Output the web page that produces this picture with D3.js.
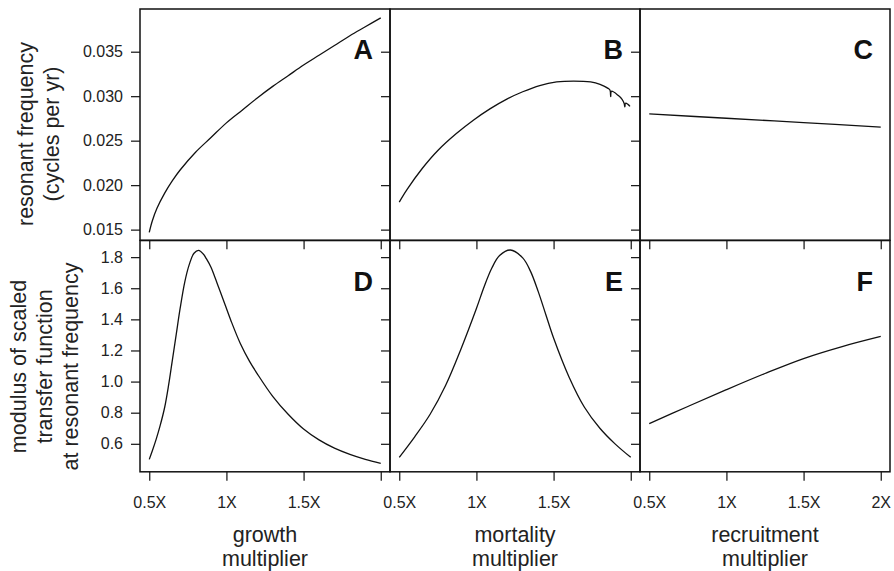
<!DOCTYPE html>
<html>
<head>
<meta charset="utf-8">
<script src="https://cdnjs.cloudflare.com/ajax/libs/d3/7.8.5/d3.min.js"></script>
<style>
  body { margin: 0; background: #fff; }
  svg { font-family: "Liberation Sans", Arial, sans-serif; }
  .tick text { font-size: 16px; fill: #222; }
  .tick line { stroke: #111; stroke-width: 1.2; }
</style>
</head>
<body>
<div id="chart"></div>
<script>
// tick values / labels
var multTicks = [0.5, 1, 1.5, 2];
var multLabels = ["0.5X", "1X", "1.5X", "2X"];
var freqTicks = [0.015, 0.020, 0.025, 0.030, 0.035];
var modTicks = [0.6, 0.8, 1.0, 1.2, 1.4, 1.6, 1.8];

// A: growth -> resonant frequency
var growthX    = [0.5, 0.52, 0.55, 0.6, 0.65, 0.7, 0.8, 0.9, 1.0, 1.1, 1.2, 1.3, 1.4, 1.5, 1.6, 1.7, 1.8, 1.9, 2.0];
var growthFreq = [0.0147, 0.0160, 0.0174, 0.0191, 0.0205, 0.0217, 0.0237, 0.02535, 0.0270, 0.0284, 0.0298, 0.0311, 0.0323, 0.0335, 0.0346, 0.0357, 0.0368, 0.0378, 0.0388];

// B: mortality -> resonant frequency (numerical wobble near the end)
var mortX    = [0.5, 0.55, 0.65, 0.75, 0.87, 0.98, 1.09, 1.2, 1.3, 1.41, 1.52, 1.63, 1.74, 1.801, 1.853, 1.866, 1.870, 1.875, 1.918, 1.944, 1.957, 1.962, 1.966, 1.982, 1.995];
var mortFreq = [0.0181, 0.0195, 0.0219, 0.0239, 0.0258, 0.0273, 0.0286, 0.0297, 0.0305, 0.0312, 0.0316, 0.0317, 0.0316, 0.03133, 0.03088, 0.03066, 0.02995, 0.03055, 0.0301, 0.02965, 0.0292, 0.0288, 0.0292, 0.02908, 0.02886];

// C: recruitment -> resonant frequency
var recrX    = [0.5, 1.0, 1.5, 2.0];
var recrFreq = [0.0280, 0.02752, 0.02703, 0.02653];

// D: growth -> modulus
var growthModX = [0.5, 0.52, 0.545, 0.57, 0.6, 0.625, 0.65, 0.675, 0.7, 0.73, 0.76, 0.79, 0.82, 0.85, 0.87, 0.9, 0.92, 0.95, 0.98, 1.03, 1.09, 1.15, 1.2, 1.3, 1.4, 1.5, 1.6, 1.7, 1.8, 1.9, 2.0];
var growthMod  = [0.50, 0.555, 0.63, 0.715, 0.835, 0.975, 1.14, 1.305, 1.47, 1.64, 1.755, 1.825, 1.843, 1.82, 1.79, 1.735, 1.685, 1.605, 1.525, 1.39, 1.245, 1.13, 1.05, 0.905, 0.79, 0.695, 0.625, 0.572, 0.532, 0.50, 0.474];

// E: mortality -> modulus
var mortModX = [0.5, 0.6, 0.7, 0.8, 0.9, 1.0, 1.05, 1.1, 1.15, 1.22, 1.3, 1.35, 1.4, 1.45, 1.5, 1.6, 1.7, 1.8, 1.9, 2.0];
var mortMod  = [0.513, 0.645, 0.79, 0.975, 1.21, 1.47, 1.61, 1.73, 1.81, 1.846, 1.795, 1.71, 1.58, 1.43, 1.28, 1.03, 0.835, 0.70, 0.598, 0.513];

// F: recruitment -> modulus
var recrModX = [0.5, 0.75, 1.0, 1.25, 1.5, 1.75, 2.0];
var recrMod  = [0.73, 0.84, 0.948, 1.052, 1.148, 1.225, 1.29];

var panels = [
  {id: "A", row: 0, col: 0, xs: growthX, ys: growthFreq},
  {id: "B", row: 0, col: 1, xs: mortX, ys: mortFreq},
  {id: "C", row: 0, col: 2, xs: recrX, ys: recrFreq},
  {id: "D", row: 1, col: 0, xs: growthModX, ys: growthMod},
  {id: "E", row: 1, col: 1, xs: mortModX, ys: mortMod},
  {id: "F", row: 1, col: 2, xs: recrModX, ys: recrMod}
];

var _width = 894, _height = 571;
var colX = [140, 390, 640], rowY = [9, 240.5];
var pw = 250, ph = 231.3;

var svg = d3.select("#chart").append("svg")
  .attr("width", _width)
  .attr("height", _height);

var x = d3.scaleLinear().domain([0.44, 2.06]).range([0, pw]);
var yTop = d3.scaleLinear().domain([0.0138, 0.0398]).range([ph, 0]);
var yBot = d3.scaleLinear().domain([0.42, 1.907]).range([ph, 0]);

var line = d3.line().curve(d3.curveCatmullRom.alpha(0.5));

panels.forEach(function (p) {
  var y = p.row == 0 ? yTop : yBot;
  var g = svg.append("g")
    .attr("transform", "translate(" + colX[p.col] + "," + rowY[p.row] + ")");

  // y ticks (labels only in first column)
  var yAxis = d3.axisLeft(y)
    .tickValues(p.row == 0 ? freqTicks : modTicks)
    .tickSize(9).tickPadding(8).tickSizeOuter(0)
    .tickFormat(p.col == 0 ? d3.format(p.row == 0 ? ".3f" : ".1f") : "");
  g.append("g").attr("class", "y axis").call(yAxis)
    .call(function (a) { a.select(".domain").remove(); });

  // x ticks (labels only in bottom row; 2X only on last panel)
  var xAxis = d3.axisBottom(x)
    .tickValues(multTicks)
    .tickSize(9).tickPadding(16).tickSizeOuter(0)
    .tickFormat(function (d, i) {
      if (p.row == 0) return "";
      if (i == 3 && p.col < 2) return "";
      return multLabels[i];
    });
  g.append("g").attr("class", "x axis")
    .attr("transform", "translate(0," + ph + ")")
    .call(xAxis)
    .call(function (a) { a.select(".domain").remove(); });

  g.append("rect")
    .attr("width", pw).attr("height", ph)
    .attr("fill", "none").attr("stroke", "#111").attr("stroke-width", 1.5);

  g.append("path")
    .datum(p.xs.map(function (v, i) { return [x(v), y(p.ys[i])]; }))
    .attr("d", line)
    .attr("fill", "none")
    .attr("stroke", "#111")
    .attr("stroke-width", 1.3);

  g.append("text")
    .attr("x", pw - 17).attr("y", 50)
    .attr("text-anchor", "end")
    .style("font-size", "27px").style("font-weight", "bold").style("fill", "#111")
    .text(p.id);
});

// x axis titles
var xTitles = [["growth", "multiplier"], ["mortality", "multiplier"], ["recruitment", "multiplier"]];
xTitles.forEach(function (t, c) {
  t.forEach(function (s, k) {
    svg.append("text")
      .attr("x", colX[c] + x(1.25)).attr("y", 542 + k * 24)
      .attr("text-anchor", "middle")
      .style("font-size", "21.5px").style("fill", "#222")
      .text(s);
  });
});

// y axis titles
function yTitle(lines, cy, bases) {
  lines.forEach(function (s, k) {
    svg.append("text")
      .attr("transform", "translate(" + bases[k] + "," + cy + ") rotate(-90)")
      .attr("text-anchor", "middle")
      .style("font-size", "21.5px").style("fill", "#222")
      .text(s);
  });
}
yTitle(["resonant frequency", "(cycles per yr)"], 134, [33, 59]);
yTitle(["modulus of scaled", "transfer function", "at resonant frequency"], 366.5, [26, 52, 78]);
</script>
</body>
</html>
